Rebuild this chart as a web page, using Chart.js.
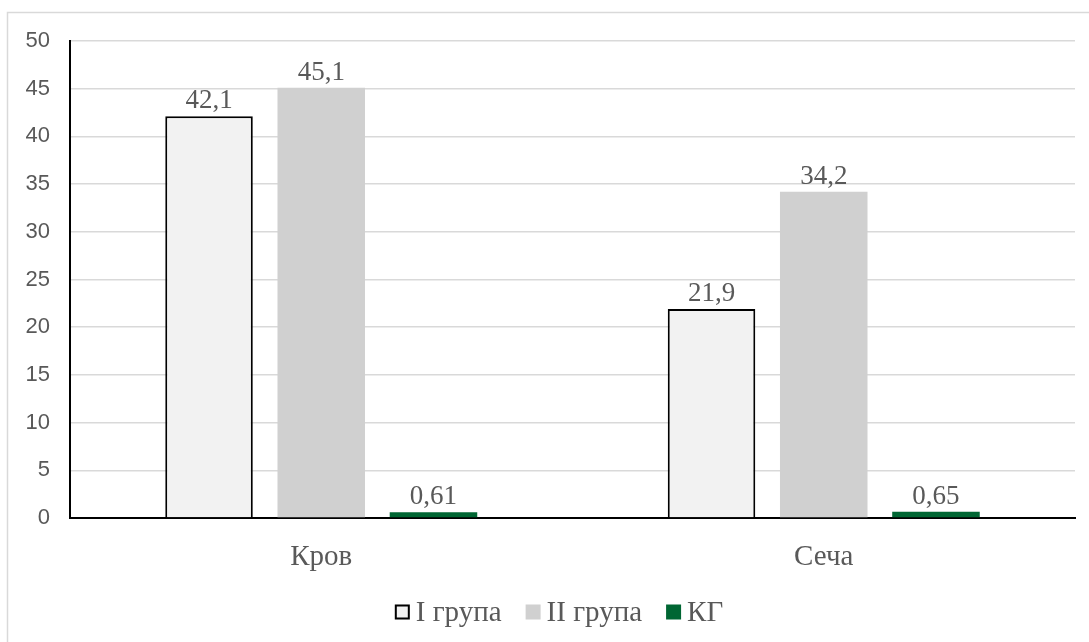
<!DOCTYPE html>
<html>
<head>
<meta charset="utf-8">
<script src="https://cdn.jsdelivr.net/npm/chart.js@4/dist/chart.umd.min.js"></script>
<style>
  html, body { margin: 0; padding: 0; background: #ffffff; }
  #wrap { width: 1089px; height: 642px; position: relative; }
</style>
</head>
<body>
<div id="wrap"><canvas id="c" width="1089" height="642"></canvas></div>
<script>
const categories = ['Кров', 'Сеча'];
const seriesNames = ['I група', 'II група', 'КГ'];
const group1 = [42.1, 21.9];
const group2 = [45.1, 34.2];
const controlGroup = [0.61, 0.65];
const yTicks = [0, 5, 10, 15, 20, 25, 30, 35, 40, 45, 50];

const serif = "'Liberation Serif', 'Times New Roman', serif";
const sans = "'Liberation Sans', Arial, sans-serif";
const textColor = '#595959';

const fmt = v => String(v).replace('.', ',');

// Outer frame: light top and left edges around the chart
const framePlugin = {
  id: 'frame',
  beforeDraw(chart) {
    const ctx = chart.ctx;
    ctx.save();
    ctx.strokeStyle = '#d9d9d9';
    ctx.lineWidth = 1.5;
    ctx.beginPath();
    ctx.moveTo(1089, 12.5);
    ctx.lineTo(7.5, 12.5);
    ctx.lineTo(7.5, 642);
    ctx.stroke();
    ctx.restore();
  }
};

// Value labels above each bar
const valueLabels = {
  id: 'valueLabels',
  afterDatasetsDraw(chart) {
    const ctx = chart.ctx;
    ctx.save();
    ctx.font = '27px ' + serif;
    ctx.fillStyle = textColor;
    ctx.textAlign = 'center';
    ctx.textBaseline = 'alphabetic';
    chart.data.datasets.forEach((ds, i) => {
      chart.getDatasetMeta(i).data.forEach((bar, j) => {
        ctx.fillText(fmt(ds.data[j]), bar.x, bar.y - 8);
      });
    });
    ctx.restore();
  }
};

// Compact legend row below the axis, built from the dataset styles
const legendRow = {
  id: 'legendRow',
  afterDraw(chart) {
    const ctx = chart.ctx;
    const box = 15, gapText = 6, gapItem = 24, cy = 612, centerX = 559;
    ctx.save();
    ctx.font = '29px ' + serif;
    ctx.textBaseline = 'middle';
    const items = chart.data.datasets.map(ds => ({ ds, w: ctx.measureText(ds.label).width }));
    const total = items.reduce((s, it) => s + box + gapText + it.w, 0) + gapItem * (items.length - 1);
    let x = centerX - total / 2;
    items.forEach(({ ds, w }) => {
      ctx.fillStyle = ds.backgroundColor;
      ctx.fillRect(x, cy - box / 2, box, box);
      if (ds.borderWidth) {
        ctx.strokeStyle = ds.borderColor;
        ctx.lineWidth = 2;
        ctx.strokeRect(x + 1, cy - box / 2 + 1, box - 2, box - 2);
      }
      ctx.fillStyle = textColor;
      ctx.textAlign = 'left';
      ctx.fillText(ds.label, x + box + gapText, cy + 1);
      x += box + gapText + w + gapItem;
    });
    ctx.restore();
  }
};

new Chart(document.getElementById('c'), {
  type: 'bar',
  data: {
    labels: categories,
    datasets: [
      { label: seriesNames[0], data: group1, backgroundColor: '#f2f2f2', borderColor: '#000000', borderWidth: 2 },
      { label: seriesNames[1], data: group2, backgroundColor: '#d0d0d0', borderWidth: 0 },
      { label: seriesNames[2], data: controlGroup, backgroundColor: '#006633', borderWidth: 0 }
    ]
  },
  options: {
    responsive: false,
    animation: false,
    devicePixelRatio: 1,
    layout: { padding: { left: 0, right: 14, top: 41, bottom: 0 } },
    datasets: { bar: { categoryPercentage: 0.67, barPercentage: 0.78 } },
    scales: {
      x: {
        grid: { display: false },
        border: { color: '#000000', width: 2 },
        ticks: { font: { family: serif, size: 29 }, color: textColor, padding: 14 },
        afterFit(s) { s.height = 124; }
      },
      y: {
        min: 0, max: 50,
        afterBuildTicks(s) { s.ticks = yTicks.map(v => ({ value: v })); },
        grid: { color: '#d9d9d9', lineWidth: 1.5, drawTicks: false },
        border: { color: '#000000', width: 2 },
        ticks: { font: { family: sans, size: 22 }, color: textColor, padding: 20 },
        afterFit(s) { s.width = 70; }
      }
    },
    plugins: {
      legend: { display: false },
      tooltip: { enabled: false }
    }
  },
  plugins: [framePlugin, valueLabels, legendRow]
});
</script>
</body>
</html>
